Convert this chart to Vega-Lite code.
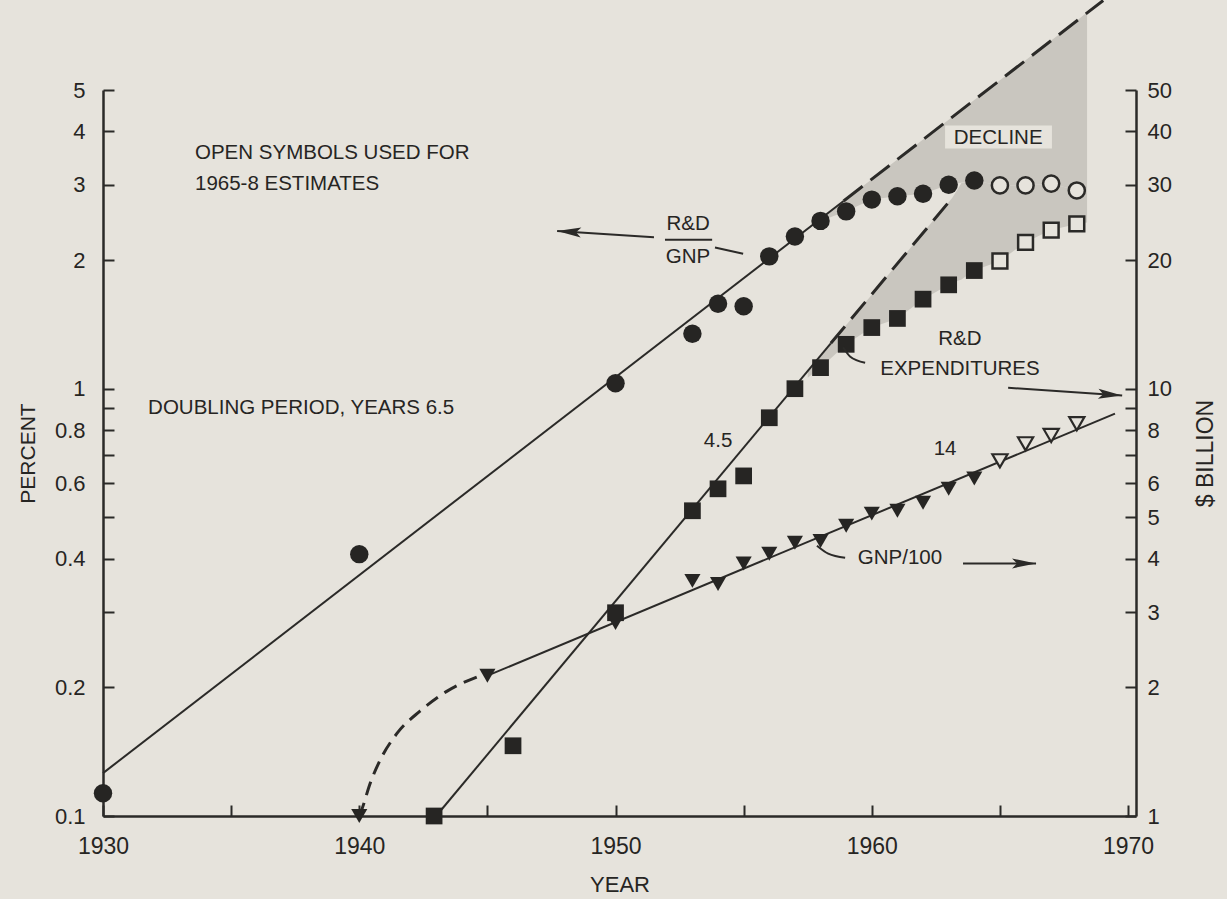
{
  "$schema": "https://vega.github.io/schema/vega-lite/v6.json",
  "width": 1033,
  "height": 726,
  "autosize": {"type": "none"},
  "padding": {"left": 103, "top": 90, "right": 91, "bottom": 83},
  "background": "#e6e3dc",
  "config": {
    "view": {"stroke": null},
    "font": "Liberation Sans",
    "axis": {
      "domainColor": "#2b2a28", "domainWidth": 2.5,
      "tickColor": "#2b2a28", "tickWidth": 2, "tickSize": -11,
      "labelColor": "#262523", "labelFont": "Liberation Sans", "labelFontSize": 22,
      "titleFont": "Liberation Sans", "titleFontSize": 21, "titleFontWeight": "normal", "titleColor": "#262523",
      "grid": false, "labelOverlap": false, "labelFlush": false
    },
    "text": {"font": "Liberation Sans", "fontSize": 20, "color": "#262523"}
  },
  "datasets": {
    "rdgnp": [
      {"year": 1930, "pct": 0.113, "status": "actual"},
      {"year": 1940, "pct": 0.41, "status": "actual"},
      {"year": 1950, "pct": 1.03, "status": "actual"},
      {"year": 1953, "pct": 1.345, "status": "actual"},
      {"year": 1954, "pct": 1.58, "status": "actual"},
      {"year": 1955, "pct": 1.56, "status": "actual"},
      {"year": 1956, "pct": 2.04, "status": "actual"},
      {"year": 1957, "pct": 2.27, "status": "actual"},
      {"year": 1958, "pct": 2.47, "status": "actual"},
      {"year": 1959, "pct": 2.6, "status": "actual"},
      {"year": 1960, "pct": 2.77, "status": "actual"},
      {"year": 1961, "pct": 2.82, "status": "actual"},
      {"year": 1962, "pct": 2.86, "status": "actual"},
      {"year": 1963, "pct": 3.0, "status": "actual"},
      {"year": 1964, "pct": 3.07, "status": "actual"},
      {"year": 1965, "pct": 2.99, "status": "estimate"},
      {"year": 1966, "pct": 2.99, "status": "estimate"},
      {"year": 1967, "pct": 3.02, "status": "estimate"},
      {"year": 1968, "pct": 2.91, "status": "estimate"}
    ],
    "rdexp": [
      {"year": 1942.92, "bil": 1.0, "status": "actual"},
      {"year": 1946.0, "bil": 1.46, "status": "actual"},
      {"year": 1950, "bil": 2.99, "status": "actual"},
      {"year": 1953, "bil": 5.18, "status": "actual"},
      {"year": 1954, "bil": 5.83, "status": "actual"},
      {"year": 1955, "bil": 6.25, "status": "actual"},
      {"year": 1956, "bil": 8.55, "status": "actual"},
      {"year": 1957, "bil": 10.0, "status": "actual"},
      {"year": 1958, "bil": 11.2, "status": "actual"},
      {"year": 1959, "bil": 12.7, "status": "actual"},
      {"year": 1960, "bil": 13.9, "status": "actual"},
      {"year": 1961, "bil": 14.6, "status": "actual"},
      {"year": 1962, "bil": 16.2, "status": "actual"},
      {"year": 1963, "bil": 17.5, "status": "actual"},
      {"year": 1964, "bil": 18.9, "status": "actual"},
      {"year": 1965, "bil": 19.9, "status": "estimate"},
      {"year": 1966, "bil": 22.0, "status": "estimate"},
      {"year": 1967, "bil": 23.5, "status": "estimate"},
      {"year": 1968, "bil": 24.3, "status": "estimate"}
    ],
    "gnp": [
      {"year": 1940, "bil": 1.0, "status": "actual"},
      {"year": 1945, "bil": 2.13, "status": "actual"},
      {"year": 1950, "bil": 2.83, "status": "actual"},
      {"year": 1953, "bil": 3.55, "status": "actual"},
      {"year": 1954, "bil": 3.49, "status": "actual"},
      {"year": 1955, "bil": 3.9, "status": "actual"},
      {"year": 1956, "bil": 4.11, "status": "actual"},
      {"year": 1957, "bil": 4.36, "status": "actual"},
      {"year": 1958, "bil": 4.4, "status": "actual"},
      {"year": 1959, "bil": 4.78, "status": "actual"},
      {"year": 1960, "bil": 5.1, "status": "actual"},
      {"year": 1961, "bil": 5.18, "status": "actual"},
      {"year": 1962, "bil": 5.41, "status": "actual"},
      {"year": 1963, "bil": 5.83, "status": "actual"},
      {"year": 1964, "bil": 6.16, "status": "actual"},
      {"year": 1965, "bil": 6.78, "status": "estimate"},
      {"year": 1966, "bil": 7.43, "status": "estimate"},
      {"year": 1967, "bil": 7.77, "status": "estimate"},
      {"year": 1968, "bil": 8.28, "status": "estimate"}
    ],
    "fit_rdgnp": [{"year": 1930, "pct": 0.126}, {"year": 1958.9, "pct": 2.75}],
    "extrap_rdgnp": [{"year": 1958.9, "pct": 2.75}, {"year": 1969.03, "pct": 8.1}],
    "fit_rdexp": [{"year": 1943.0, "bil": 1.0}, {"year": 1958.4, "bil": 12.77}],
    "extrap_rdexp": [{"year": 1958.4, "bil": 12.77}, {"year": 1963.15, "bil": 28.0}],
    "fit_gnp": [{"year": 1945, "bil": 2.13}, {"year": 1969.49, "bil": 8.74}],
    "early_gnp": [
      {"year": 1940.0, "bil": 1.0}, {"year": 1940.11, "bil": 1.04}, {"year": 1940.42, "bil": 1.19},
      {"year": 1940.81, "bil": 1.35}, {"year": 1941.47, "bil": 1.56}, {"year": 1942.37, "bil": 1.76},
      {"year": 1943.43, "bil": 1.96}, {"year": 1944.72, "bil": 2.13}
    ],
    "decline_upper": [
      {"year": 1958, "top": 2.5, "bottom": 2.47},
      {"year": 1959, "top": 2.78, "bottom": 2.6},
      {"year": 1960, "top": 3.09, "bottom": 2.77},
      {"year": 1961, "top": 3.44, "bottom": 2.82},
      {"year": 1962, "top": 3.83, "bottom": 2.86},
      {"year": 1963, "top": 4.26, "bottom": 3.0},
      {"year": 1964, "top": 4.74, "bottom": 3.07},
      {"year": 1965, "top": 5.27, "bottom": 2.99},
      {"year": 1966, "top": 5.87, "bottom": 2.99},
      {"year": 1967, "top": 6.53, "bottom": 3.02},
      {"year": 1968, "top": 7.26, "bottom": 2.91},
      {"year": 1968.4, "top": 7.6, "bottom": 2.91}
    ],
    "decline_lower": [
      {"year": 1957.5, "top": 1.1, "bottom": 1.06},
      {"year": 1958, "top": 1.195, "bottom": 1.12},
      {"year": 1959, "top": 1.41, "bottom": 1.27},
      {"year": 1960, "top": 1.66, "bottom": 1.39},
      {"year": 1961, "top": 1.96, "bottom": 1.46},
      {"year": 1962, "top": 2.32, "bottom": 1.62},
      {"year": 1963, "top": 2.73, "bottom": 1.75},
      {"year": 1963.15, "top": 2.8, "bottom": 1.77},
      {"year": 1963.5, "top": 3.03, "bottom": 1.8},
      {"year": 1964, "top": 3.07, "bottom": 1.89},
      {"year": 1965, "top": 2.99, "bottom": 1.99},
      {"year": 1966, "top": 2.99, "bottom": 2.2},
      {"year": 1967, "top": 3.02, "bottom": 2.35},
      {"year": 1968, "top": 2.91, "bottom": 2.43},
      {"year": 1968.4, "top": 2.91, "bottom": 2.45}
    ],
    "decline_box": [{"x1": 1962.86, "x2": 1967.03, "y1": 4.13, "y2": 3.65}],
    "notes_left": [
      {"year": 1933.59, "pct": 3.57, "text": "OPEN SYMBOLS USED FOR"},
      {"year": 1933.59, "pct": 3.02, "text": "1965-8 ESTIMATES"},
      {"year": 1931.76, "pct": 0.903, "text": "DOUBLING PERIOD, YEARS 6.5"}
    ],
    "notes_pct": [
      {"year": 1952.83, "pct": 2.43, "text": "R&D"},
      {"year": 1952.83, "pct": 2.03, "text": "GNP"},
      {"year": 1964.93, "pct": 3.87, "text": "DECLINE"}
    ],
    "fraction_bar": [{"x1": 1951.93, "x2": 1953.77, "pct": 2.23}],
    "leaders_pct": [
      {"seg": "gnp-label", "year": 1953.88, "pct": 2.14},
      {"seg": "gnp-label", "year": 1954.98, "pct": 2.07},
      {"seg": "percent-arrow", "year": 1951.5, "pct": 2.26},
      {"seg": "percent-arrow", "year": 1947.72, "pct": 2.34}
    ],
    "head_left": [{"year": 1947.72, "pct": 2.34}],
    "notes_bil": [
      {"year": 1954.0, "bil": 7.55, "text": "4.5"},
      {"year": 1962.86, "bil": 7.24, "text": "14"},
      {"year": 1963.44, "bil": 13.1, "text": "R&D"},
      {"year": 1963.44, "bil": 11.1, "text": "EXPENDITURES"},
      {"year": 1961.1, "bil": 4.02, "text": "GNP/100"}
    ],
    "leaders_bil": [
      {"seg": "exp-label", "year": 1958.88, "bil": 12.5},
      {"seg": "exp-label", "year": 1959.15, "bil": 11.9},
      {"seg": "exp-label", "year": 1959.74, "bil": 11.5},
      {"seg": "gnp100-label", "year": 1957.86, "bil": 4.29},
      {"seg": "gnp100-label", "year": 1958.3, "bil": 4.11},
      {"seg": "gnp100-label", "year": 1958.96, "bil": 4.02},
      {"seg": "exp-arrow", "year": 1965.32, "bil": 10.05},
      {"seg": "exp-arrow", "year": 1969.77, "bil": 9.64},
      {"seg": "gnp-arrow", "year": 1963.56, "bil": 3.9},
      {"seg": "gnp-arrow", "year": 1966.41, "bil": 3.9}
    ],
    "head_exp": [{"year": 1969.77, "bil": 9.64}],
    "head_gnp": [{"year": 1966.41, "bil": 3.9}]
  },
  "layer": [
    {
      "layer": [
        {
          "data": {"name": "decline_upper"},
          "mark": {"type": "area", "fill": "#c9c6bf", "clip": false},
          "encoding": {
            "x": {"field": "year", "type": "quantitative", "title": "YEAR", "scale": {"domain": [1930, 1970.31], "nice": false, "zero": false},
                  "axis": {"title": "YEAR", "values": [1930, 1935, 1940, 1945, 1950, 1955, 1960, 1965, 1970], "format": "d",
                           "labelExpr": "datum.value % 10 == 0 ? datum.label : ''", "labelPadding": 30, "labelFontSize": 23, "titlePadding": 16, "titleFontSize": 22}},
            "y": {"field": "top", "type": "quantitative", "title": "PERCENT", "scale": {"type": "log", "domain": [0.1, 5], "nice": false},
                  "axis": {"orient": "left", "title": "PERCENT", "values": [0.1, 0.2, 0.3, 0.4, 0.5, 0.6, 0.7, 0.8, 0.9, 1, 2, 3, 4, 5], "format": "~g",
                           "labelExpr": "(datum.value == 0.3 || datum.value == 0.5 || datum.value == 0.7 || datum.value == 0.9) ? '' : datum.label",
                           "labelPadding": 29, "titlePadding": 16}},
            "y2": {"field": "bottom"}
          }
        },
        {
          "data": {"name": "decline_lower"},
          "mark": {"type": "area", "fill": "#c9c6bf"},
          "encoding": {
            "x": {"field": "year", "type": "quantitative", "title": "YEAR", "scale": {"domain": [1930, 1970.31], "nice": false, "zero": false}},
            "y": {"field": "top", "type": "quantitative", "title": "PERCENT", "scale": {"type": "log", "domain": [0.1, 5], "nice": false}},
            "y2": {"field": "bottom"}
          }
        },
        {
          "data": {"name": "fit_rdgnp"},
          "mark": {"type": "line", "color": "#2b2a28", "strokeWidth": 2},
          "encoding": {
            "x": {"field": "year", "type": "quantitative", "title": "YEAR", "scale": {"domain": [1930, 1970.31], "nice": false, "zero": false}},
            "y": {"field": "pct", "type": "quantitative", "title": "PERCENT", "scale": {"type": "log", "domain": [0.1, 5], "nice": false}}
          }
        },
        {
          "data": {"name": "extrap_rdgnp"},
          "mark": {"type": "line", "color": "#2b2a28", "strokeWidth": 3, "strokeDash": [24, 10], "clip": false},
          "encoding": {
            "x": {"field": "year", "type": "quantitative", "title": "YEAR", "scale": {"domain": [1930, 1970.31], "nice": false, "zero": false}},
            "y": {"field": "pct", "type": "quantitative", "title": "PERCENT", "scale": {"type": "log", "domain": [0.1, 5], "nice": false}}
          }
        },
        {
          "data": {"name": "decline_box"},
          "mark": {"type": "rect", "fill": "#e6e3dc"},
          "encoding": {
            "x": {"field": "x1", "type": "quantitative", "title": "YEAR", "scale": {"domain": [1930, 1970.31], "nice": false, "zero": false}},
            "x2": {"field": "x2"},
            "y": {"field": "y1", "type": "quantitative", "title": "PERCENT", "scale": {"type": "log", "domain": [0.1, 5], "nice": false}},
            "y2": {"field": "y2"}
          }
        },
        {
          "data": {"name": "rdgnp"},
          "transform": [{"filter": "datum.status == 'actual'"}],
          "mark": {"type": "point", "shape": "circle", "filled": true, "fill": "#262523", "size": 340, "opacity": 1},
          "encoding": {
            "x": {"field": "year", "type": "quantitative", "title": "YEAR", "scale": {"domain": [1930, 1970.31], "nice": false, "zero": false}},
            "y": {"field": "pct", "type": "quantitative", "title": "PERCENT", "scale": {"type": "log", "domain": [0.1, 5], "nice": false}}
          }
        },
        {
          "data": {"name": "rdgnp"},
          "transform": [{"filter": "datum.status == 'estimate'"}],
          "mark": {"type": "point", "shape": "circle", "filled": true, "fill": "#e6e3dc", "stroke": "#2b2a28", "strokeWidth": 2.5, "size": 260, "opacity": 1},
          "encoding": {
            "x": {"field": "year", "type": "quantitative", "title": "YEAR", "scale": {"domain": [1930, 1970.31], "nice": false, "zero": false}},
            "y": {"field": "pct", "type": "quantitative", "title": "PERCENT", "scale": {"type": "log", "domain": [0.1, 5], "nice": false}}
          }
        },
        {
          "data": {"name": "notes_left"},
          "mark": {"type": "text", "align": "left", "baseline": "middle", "fontSize": 20.5},
          "encoding": {
            "x": {"field": "year", "type": "quantitative", "title": "YEAR", "scale": {"domain": [1930, 1970.31], "nice": false, "zero": false}},
            "y": {"field": "pct", "type": "quantitative", "title": "PERCENT", "scale": {"type": "log", "domain": [0.1, 5], "nice": false}},
            "text": {"field": "text"}
          }
        },
        {
          "data": {"name": "notes_pct"},
          "mark": {"type": "text", "align": "center", "baseline": "middle", "fontSize": 20.5},
          "encoding": {
            "x": {"field": "year", "type": "quantitative", "title": "YEAR", "scale": {"domain": [1930, 1970.31], "nice": false, "zero": false}},
            "y": {"field": "pct", "type": "quantitative", "title": "PERCENT", "scale": {"type": "log", "domain": [0.1, 5], "nice": false}},
            "text": {"field": "text"}
          }
        },
        {
          "data": {"name": "fraction_bar"},
          "mark": {"type": "rule", "color": "#2b2a28", "strokeWidth": 2},
          "encoding": {
            "x": {"field": "x1", "type": "quantitative", "title": "YEAR", "scale": {"domain": [1930, 1970.31], "nice": false, "zero": false}},
            "x2": {"field": "x2"},
            "y": {"field": "pct", "type": "quantitative", "title": "PERCENT", "scale": {"type": "log", "domain": [0.1, 5], "nice": false}}
          }
        },
        {
          "data": {"name": "leaders_pct"},
          "mark": {"type": "line", "color": "#2b2a28", "strokeWidth": 2},
          "encoding": {
            "x": {"field": "year", "type": "quantitative", "title": "YEAR", "scale": {"domain": [1930, 1970.31], "nice": false, "zero": false}},
            "y": {"field": "pct", "type": "quantitative", "title": "PERCENT", "scale": {"type": "log", "domain": [0.1, 5], "nice": false}},
            "detail": {"field": "seg"}
          }
        },
        {
          "data": {"name": "head_left"},
          "mark": {"type": "point", "shape": "M0,0L2.4,-0.5L1.9,0L2.4,0.5Z", "filled": true, "fill": "#2b2a28", "size": 400, "angle": 4, "opacity": 1},
          "encoding": {
            "x": {"field": "year", "type": "quantitative", "title": "YEAR", "scale": {"domain": [1930, 1970.31], "nice": false, "zero": false}},
            "y": {"field": "pct", "type": "quantitative", "title": "PERCENT", "scale": {"type": "log", "domain": [0.1, 5], "nice": false}}
          }
        }
      ]
    },
    {
      "layer": [
        {
          "data": {"name": "fit_rdexp"},
          "mark": {"type": "line", "color": "#2b2a28", "strokeWidth": 2},
          "encoding": {
            "x": {"field": "year", "type": "quantitative", "title": "YEAR", "scale": {"domain": [1930, 1970.31], "nice": false, "zero": false}},
            "y": {"field": "bil", "type": "quantitative", "title": "$ BILLION", "scale": {"type": "log", "domain": [1, 50], "nice": false},
                  "axis": {"orient": "right", "title": "$ BILLION", "values": [1, 2, 3, 4, 5, 6, 7, 8, 9, 10, 20, 30, 40, 50], "format": "d",
                           "labelExpr": "(datum.value == 7 || datum.value == 9) ? '' : datum.label",
                           "labelPadding": 22, "titleAngle": 270, "titlePadding": 46, "titleFontSize": 23}}
          }
        },
        {
          "data": {"name": "extrap_rdexp"},
          "mark": {"type": "line", "color": "#2b2a28", "strokeWidth": 3, "strokeDash": [22, 10]},
          "encoding": {
            "x": {"field": "year", "type": "quantitative", "title": "YEAR", "scale": {"domain": [1930, 1970.31], "nice": false, "zero": false}},
            "y": {"field": "bil", "type": "quantitative", "title": "$ BILLION", "scale": {"type": "log", "domain": [1, 50], "nice": false}}
          }
        },
        {
          "data": {"name": "fit_gnp"},
          "mark": {"type": "line", "color": "#2b2a28", "strokeWidth": 2},
          "encoding": {
            "x": {"field": "year", "type": "quantitative", "title": "YEAR", "scale": {"domain": [1930, 1970.31], "nice": false, "zero": false}},
            "y": {"field": "bil", "type": "quantitative", "title": "$ BILLION", "scale": {"type": "log", "domain": [1, 50], "nice": false}}
          }
        },
        {
          "data": {"name": "early_gnp"},
          "mark": {"type": "line", "color": "#2b2a28", "strokeWidth": 3, "strokeDash": [14, 8], "interpolate": "monotone"},
          "encoding": {
            "x": {"field": "year", "type": "quantitative", "title": "YEAR", "scale": {"domain": [1930, 1970.31], "nice": false, "zero": false}},
            "y": {"field": "bil", "type": "quantitative", "title": "$ BILLION", "scale": {"type": "log", "domain": [1, 50], "nice": false}}
          }
        },
        {
          "data": {"name": "rdexp"},
          "transform": [{"filter": "datum.status == 'actual'"}],
          "mark": {"type": "point", "shape": "square", "filled": true, "fill": "#262523", "size": 280, "opacity": 1},
          "encoding": {
            "x": {"field": "year", "type": "quantitative", "title": "YEAR", "scale": {"domain": [1930, 1970.31], "nice": false, "zero": false}},
            "y": {"field": "bil", "type": "quantitative", "title": "$ BILLION", "scale": {"type": "log", "domain": [1, 50], "nice": false}}
          }
        },
        {
          "data": {"name": "rdexp"},
          "transform": [{"filter": "datum.status == 'estimate'"}],
          "mark": {"type": "point", "shape": "square", "filled": true, "fill": "#e6e3dc", "stroke": "#2b2a28", "strokeWidth": 2.5, "size": 220, "opacity": 1},
          "encoding": {
            "x": {"field": "year", "type": "quantitative", "title": "YEAR", "scale": {"domain": [1930, 1970.31], "nice": false, "zero": false}},
            "y": {"field": "bil", "type": "quantitative", "title": "$ BILLION", "scale": {"type": "log", "domain": [1, 50], "nice": false}}
          }
        },
        {
          "data": {"name": "gnp"},
          "transform": [{"filter": "datum.status == 'actual'"}],
          "mark": {"type": "point", "shape": "triangle-down", "filled": true, "fill": "#262523", "size": 260, "opacity": 1},
          "encoding": {
            "x": {"field": "year", "type": "quantitative", "title": "YEAR", "scale": {"domain": [1930, 1970.31], "nice": false, "zero": false}},
            "y": {"field": "bil", "type": "quantitative", "title": "$ BILLION", "scale": {"type": "log", "domain": [1, 50], "nice": false}}
          }
        },
        {
          "data": {"name": "gnp"},
          "transform": [{"filter": "datum.status == 'estimate'"}],
          "mark": {"type": "point", "shape": "triangle-down", "filled": true, "fill": "#e6e3dc", "stroke": "#2b2a28", "strokeWidth": 2.2, "size": 230, "opacity": 1},
          "encoding": {
            "x": {"field": "year", "type": "quantitative", "title": "YEAR", "scale": {"domain": [1930, 1970.31], "nice": false, "zero": false}},
            "y": {"field": "bil", "type": "quantitative", "title": "$ BILLION", "scale": {"type": "log", "domain": [1, 50], "nice": false}}
          }
        },
        {
          "data": {"name": "notes_bil"},
          "mark": {"type": "text", "align": "center", "baseline": "middle", "fontSize": 20.5},
          "encoding": {
            "x": {"field": "year", "type": "quantitative", "title": "YEAR", "scale": {"domain": [1930, 1970.31], "nice": false, "zero": false}},
            "y": {"field": "bil", "type": "quantitative", "title": "$ BILLION", "scale": {"type": "log", "domain": [1, 50], "nice": false}},
            "text": {"field": "text"}
          }
        },
        {
          "data": {"name": "leaders_bil"},
          "mark": {"type": "line", "color": "#2b2a28", "strokeWidth": 2, "interpolate": "monotone"},
          "encoding": {
            "x": {"field": "year", "type": "quantitative", "title": "YEAR", "scale": {"domain": [1930, 1970.31], "nice": false, "zero": false}},
            "y": {"field": "bil", "type": "quantitative", "title": "$ BILLION", "scale": {"type": "log", "domain": [1, 50], "nice": false}},
            "detail": {"field": "seg"}
          }
        },
        {
          "data": {"name": "head_exp"},
          "mark": {"type": "point", "shape": "M0,0L2.4,-0.5L1.9,0L2.4,0.5Z", "filled": true, "fill": "#2b2a28", "size": 400, "angle": 184, "opacity": 1},
          "encoding": {
            "x": {"field": "year", "type": "quantitative", "title": "YEAR", "scale": {"domain": [1930, 1970.31], "nice": false, "zero": false}},
            "y": {"field": "bil", "type": "quantitative", "title": "$ BILLION", "scale": {"type": "log", "domain": [1, 50], "nice": false}}
          }
        },
        {
          "data": {"name": "head_gnp"},
          "mark": {"type": "point", "shape": "M0,0L2.4,-0.5L1.9,0L2.4,0.5Z", "filled": true, "fill": "#2b2a28", "size": 400, "angle": 180, "opacity": 1},
          "encoding": {
            "x": {"field": "year", "type": "quantitative", "title": "YEAR", "scale": {"domain": [1930, 1970.31], "nice": false, "zero": false}},
            "y": {"field": "bil", "type": "quantitative", "title": "$ BILLION", "scale": {"type": "log", "domain": [1, 50], "nice": false}}
          }
        }
      ]
    }
  ],
  "resolve": {"scale": {"y": "independent"}}
}
